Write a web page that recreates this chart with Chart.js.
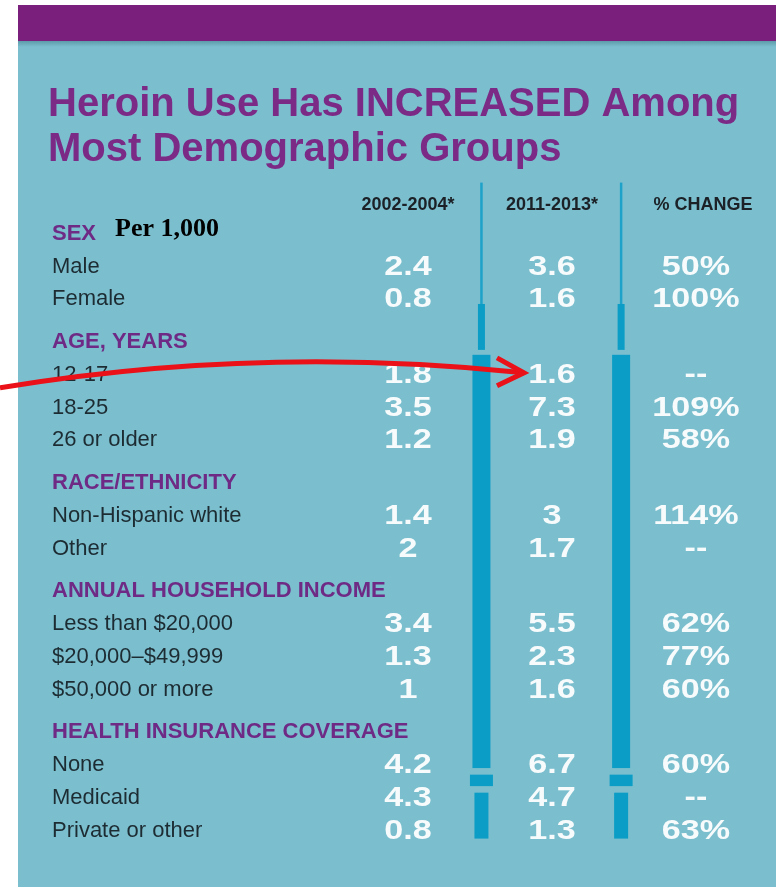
<!DOCTYPE html>
<html>
<head>
<meta charset="utf-8">
<script src="https://cdn.jsdelivr.net/npm/chart.js@4"></script>
<style>
  html, body { margin: 0; padding: 0; background: #fff; }
  canvas { display: block; }
</style>
</head>
<body>
<canvas id="heroinChart" width="776" height="887"></canvas>
<script>
// Table data (rate per 1,000)
const groupNames = ['SEX', 'AGE, YEARS', 'RACE/ETHNICITY', 'ANNUAL HOUSEHOLD INCOME', 'HEALTH INSURANCE COVERAGE'];
const categories = ['Male', 'Female', '12-17', '18-25', '26 or older', 'Non-Hispanic white', 'Other',
    'Less than $20,000', '$20,000\u2013$49,999', '$50,000 or more', 'None', 'Medicaid', 'Private or other'];
const categoryGroup = [0, 0, 1, 1, 1, 2, 2, 3, 3, 3, 4, 4, 4];
const columnLabels = ['2002-2004*', '2011-2013*', '% CHANGE'];
const rate2002 = [2.4, 0.8, 1.8, 3.5, 1.2, 1.4, 2, 3.4, 1.3, 1, 4.2, 4.3, 0.8];
const rate2011 = [3.6, 1.6, 1.6, 7.3, 1.9, 3, 1.7, 5.5, 2.3, 1.6, 6.7, 4.7, 1.3];
const pctChange = [50, 100, null, 109, 58, 114, null, 62, 77, 60, 60, null, 63];

// Row slots: one unit per row, a little extra space before each group header
const headerPos = [];
const rowPos = [];
let slot = 0;
groupNames.forEach((g, gi) => {
    if (gi > 0) slot += 0.3;
    headerPos.push(slot);
    slot += 1;
    categories.forEach((c, i) => {
        if (categoryGroup[i] === gi) {
            rowPos[i] = slot;
            slot += 1;
        }
    });
});

const columnValues = [rate2002, rate2011, pctChange];
function formatCell(ci, v) {
    if (v === null) return '--';
    return ci === 2 ? v + '%' : String(v);
}

// Background: white margin, teal panel, purple band
const backgroundPlugin = {
    id: 'background',
    beforeDraw(chart) {
        const c = chart.ctx;
        const w = chart.width, h = chart.height;
        c.save();
        c.fillStyle = '#ffffff';
        c.fillRect(0, 0, w, h);
        c.fillStyle = '#7bbfce';
        c.fillRect(18, 5, w - 18, h - 5);
        c.fillStyle = '#7a1f7c';
        c.fillRect(18, 5, w - 18, 36);
        const grad = c.createLinearGradient(0, 41, 0, 47);
        grad.addColorStop(0, 'rgba(60,110,125,0.45)');
        grad.addColorStop(1, 'rgba(60,110,125,0)');
        c.fillStyle = grad;
        c.fillRect(18, 41, w - 18, 6);

        // Title
        c.fillStyle = '#7b2a86';
        c.font = 'bold 40px "Liberation Sans", Arial, sans-serif';
        c.textAlign = 'left';
        c.textBaseline = 'alphabetic';
        c.fillText('Heroin Use Has INCREASED Among', 48, 116);
        c.fillText('Most Demographic Groups', 48, 161);
        c.restore();
    }
};

// Separators, labels, values and the red arrow
const tablePlugin = {
    id: 'table',
    afterDatasetsDraw(chart) {
        const c = chart.ctx;
        const xs = chart.scales.x, ys = chart.scales.y;
        c.save();

        // column separators (between the value columns)
        const segments = [
            { from: -1.5, to: 2.2, w: 2.5 },
            { from: 2.2, to: 3.6, w: 7 },
            { from: 3.75, to: 16.35, w: 18 },
            { from: 16.55, to: 16.9, w: 23 },
            { from: 17.1, to: 18.5, w: 14 }
        ];
        [1.51, 2.48].forEach(xv => {
            const px = xs.getPixelForValue(xv);
            segments.forEach(s => {
                const y0 = ys.getPixelForValue(s.from);
                const y1 = ys.getPixelForValue(s.to);
                c.fillStyle = s.w < 3 ? '#1ea2c9' : '#0c9dc6';
                c.fillRect(px - s.w / 2, y0, s.w, y1 - y0);
            });
        });

        // column headers
        c.fillStyle = '#1b2126';
        c.font = 'bold 18px "Liberation Sans", Arial, sans-serif';
        c.textAlign = 'center';
        c.textBaseline = 'alphabetic';
        columnLabels.forEach((lab, ci) => {
            const shift = ci === 2 ? 7 : 0;
            c.fillText(lab, xs.getPixelForValue(ci + 1) + shift, ys.getPixelForValue(-1) + 11);
        });

        // group headers
        c.textAlign = 'left';
        c.fillStyle = '#6e2a85';
        c.font = 'bold 22px "Liberation Sans", Arial, sans-serif';
        groupNames.forEach((g, gi) => {
            c.fillText(g, 52, ys.getPixelForValue(headerPos[gi]) + 8);
        });

        // unit note
        c.fillStyle = '#000000';
        c.font = 'bold 26px "Liberation Serif", "Times New Roman", serif';
        c.fillText('Per 1,000', 115, ys.getPixelForValue(headerPos[0]) + 4);

        // row labels
        c.fillStyle = '#1d2c33';
        c.font = '22px "Liberation Sans", Arial, sans-serif';
        categories.forEach((cat, i) => {
            c.fillText(cat, 52, ys.getPixelForValue(rowPos[i]) + 8);
        });

        // values, placed at each dataset point
        c.fillStyle = '#f7fbfc';
        c.font = 'bold 28px "Liberation Sans", Arial, sans-serif';
        c.textAlign = 'center';
        chart.data.datasets.forEach((ds, ci) => {
            const meta = chart.getDatasetMeta(ci);
            meta.data.forEach((pt, i) => {
                c.save();
                c.translate(pt.x, pt.y + 10);
                c.scale(1.22, 1);
                c.fillText(formatCell(ci, columnValues[ci][i]), 0, 0);
                c.restore();
            });
        });

        // red arrow pointing at the 12-17 value for 2011-2013
        const ty = ys.getPixelForValue(rowPos[2]);
        const tx = xs.getPixelForValue(2) - 28;
        c.strokeStyle = '#ea1218';
        c.lineWidth = 5;
        c.lineCap = 'butt';
        c.lineJoin = 'miter';
        c.beginPath();
        c.moveTo(0, ty + 15);
        c.quadraticCurveTo(260, ty - 28, tx, ty);
        c.stroke();
        c.beginPath();
        c.moveTo(tx - 27, ty - 15);
        c.lineTo(tx, ty);
        c.lineTo(tx - 27, ty + 13);
        c.stroke();

        c.restore();
    }
};

const ctx = document.getElementById('heroinChart');
new Chart(ctx, {
    type: 'scatter',
    data: {
        datasets: columnLabels.map((lab, ci) => ({
            label: lab,
            data: categories.map((cat, i) => ({ x: ci + 1, y: rowPos[i] })),
            pointRadius: 0,
            pointHoverRadius: 0
        }))
    },
    options: {
        responsive: false,
        animation: false,
        events: [],
        layout: {
            padding: { left: 336, right: 8, top: 199, bottom: 32 }
        },
        plugins: {
            legend: { display: false },
            tooltip: { enabled: false }
        },
        scales: {
            x: { type: 'linear', min: 0.5, max: 3.5, display: false },
            y: { type: 'linear', min: -1, max: 19, reverse: true, display: false }
        }
    },
    plugins: [backgroundPlugin, tablePlugin]
});
</script>
</body>
</html>
